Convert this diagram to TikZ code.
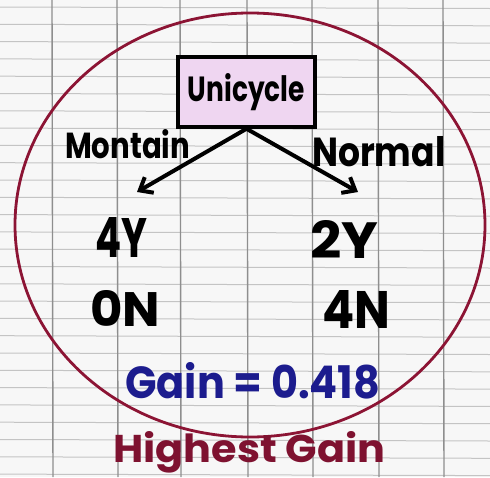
\documentclass[tikz,border=0pt]{standalone}
\usepackage{fontspec}
\setmainfont{Poppins}
\usetikzlibrary{arrows.meta}
\definecolor{paper}{HTML}{F7F7F7}
\definecolor{vgrid}{HTML}{8E8E8E}
\definecolor{hgrid}{HTML}{C4C4C4}
\definecolor{ringred}{HTML}{8C1434}
\definecolor{boxpink}{HTML}{EFD6F1}
\definecolor{gainblue}{HTML}{1C1C8E}
\definecolor{hired}{HTML}{7E1230}
\begin{document}
\begin{tikzpicture}[x=1pt,y=-1pt,
  vline/.style={vgrid,line width=1.4pt},
  hline/.style={hgrid,line width=1pt},
  ring/.style={ringred,line width=2.8pt},
  rootbox/.style={draw=black,line width=3.5pt,fill=boxpink,minimum width=137pt,minimum height=70pt,inner sep=0pt},
  txt/.style={inner sep=0pt,anchor=base west,font=\bfseries},
  branch/.style={line width=4pt,-{Straight Barb[length=11pt,width=18pt,line width=4pt]}}]
\useasboundingbox (0,0) rectangle (490,477);
\fill[paper] (0,0) rectangle (490,477);
% grid paper
\foreach \k in {0,...,27} {\draw[hline] (0,{7+17.3*\k}) -- (490,{7+17.3*\k+1.5});}
\foreach \xx in {52,117,180,247,312,378,443} {\draw[vline] (\xx,0) -- (\xx+1,477);}
% ring
\draw[ring] (250,225) ellipse [x radius=235, y radius=212];
% root
\node[rootbox,font=\bfseries] (uni) at (246.5,92) {\raisebox{-4pt}{\resizebox{117pt}{28pt}{Unicycle}}};
\coordinate (lt) at (137,192);
\coordinate (rt) at (358,192);
\draw[branch] (uni.south) -- (lt);
\draw[branch] (uni.south) -- (rt);
\node[txt] (mont) at (65,158) {\resizebox{125pt}{29pt}{Montain}};
\node[txt] (norm) at (312,166) {\resizebox{133pt}{30pt}{Normal}};
\node[txt] (ly) at (95,257) {\resizebox{52pt}{40pt}{4Y}};
\node[txt] (ry) at (310,258) {\resizebox{68pt}{38pt}{2Y}};
\node[txt] (ln) at (90,326) {\resizebox{70pt}{36pt}{0N}};
\node[txt] (rn) at (322,328) {\resizebox{68pt}{38pt}{4N}};
\node[txt,text=gainblue] (gain) at (125,398) {\resizebox{255pt}{36pt}{Gain = 0.418}};
\node[txt,text=hired] (hg) at (113,462) {\resizebox{272pt}{31pt}{Highest Gain}};
\end{tikzpicture}
\end{document}
